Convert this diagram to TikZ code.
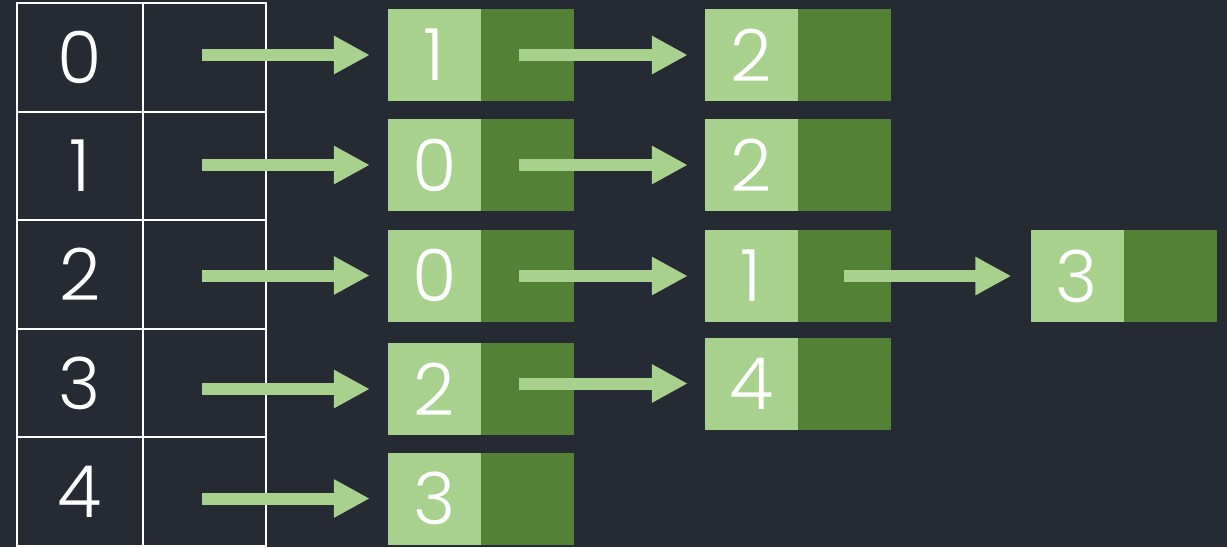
\documentclass[tikz,border=0pt]{standalone}
\usepackage{fontspec}
\IfFontExistsTF{Poppins Light}{\setmainfont{Poppins Light}}{\setmainfont{Poppins}}
\usetikzlibrary{calc,arrows.meta}
\definecolor{bg}{HTML}{252A33}
\definecolor{lightgreen}{HTML}{A9D18E}
\definecolor{darkgreen}{HTML}{538135}
\tikzset{
  cell/.style={draw=white, line width=2pt, minimum width=#1, minimum height=108.6pt, inner sep=0pt,
    text=white, font=\fontsize{72}{72}\selectfont},
  keybox/.style={fill=lightgreen, minimum width=93pt, minimum height=92pt, inner sep=0pt,
    text=white, font=\fontsize{72}{72}\selectfont},
  linkbox/.style={fill=darkgreen, minimum width=93pt, minimum height=92pt, inner sep=0pt, anchor=west},
  arr/.style={draw=lightgreen, line width=12pt, -{Triangle[length=36pt,width=36pt]}}
}
\newcommand{\listnode}[4]{%
  \node[keybox] (#1) at (#2,#3) {#4};
  \node[linkbox] (#1d) at (#1.east) {};
}
\begin{document}
\begin{tikzpicture}[x=1pt,y=-1pt]
\useasboundingbox[fill=bg] (0,0) rectangle (1227,547);

% adjacency table: index column and pointer column
\foreach \i in {0,...,4}{
  \node[cell=126pt] (k\i) at (80,{57.3+108.6*\i}) {\i};
  \node[cell=123pt] (p\i) at (204.5,{57.3+108.6*\i}) {};
}

% list nodes
\listnode{a0}{434.5}{55}{1}
\listnode{a1}{434.5}{165}{0}
\listnode{a2}{434.5}{275.5}{0}
\listnode{a3}{434.5}{389}{2}
\listnode{a4}{434.5}{498.5}{3}

\listnode{b0}{751.5}{55}{2}
\listnode{b1}{751.5}{165}{2}
\listnode{b2}{751.5}{276}{1}
\listnode{b3}{751.5}{383.5}{4}

\listnode{c2}{1077}{276}{3}

% pointers from the table into the first list node
\foreach \r in {0,...,4}{
  \draw[arr] ($(a\r.west -| p\r.center)+(-2.5,0)$) -- ([xshift=-18pt]a\r.west);
}

% pointers between list nodes
\foreach \s/\t in {a0d/b0, a1d/b1, a2d/b2, a3d/b3}{
  \draw[arr] ($(\t.west -| \s.center)+(-8.5,0)$) -- ([xshift=-17pt]\t.west);
}
\draw[arr] ($(c2.west -| b2d.center)+(-0.5,0)$) -- ([xshift=-19pt]c2.west);
\end{tikzpicture}
\end{document}
